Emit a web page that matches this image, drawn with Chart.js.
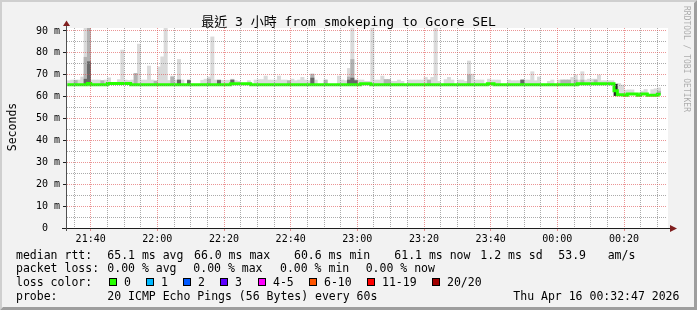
<!DOCTYPE html>
<html><head><meta charset="utf-8">
<script src="https://cdn.jsdelivr.net/npm/chart.js@4.4.1/dist/chart.umd.min.js"></script>
<style>html,body{margin:0;padding:0;background:#f2f2f2;overflow:hidden}canvas{display:block}</style>
</head><body>
<canvas id="c" width="697" height="310"></canvas>
<script>
// ---------------- data ----------------
// one step per minute; first step starts at 21:33 (minutes counted from 21:00)
const START_MIN = 33;
const median = [
65.5,65.5,65.5,65.5,65.5,65.5,66.0,65.5,65.5,65.5,
65.5,65.5,66.0,66.0,66.0,66.0,66.0,66.0,66.0,65.5,
65.5,65.5,65.5,65.5,65.5,65.5,65.5,65.5,65.5,65.5,
65.5,65.5,65.5,65.5,65.5,65.5,65.5,65.5,65.5,65.5,
65.5,65.5,65.5,65.5,65.5,65.5,65.5,65.5,65.5,65.9,
65.9,65.9,65.9,65.9,65.9,65.5,65.5,65.5,65.5,65.5,
65.5,65.5,65.5,65.5,65.5,65.5,65.5,65.5,65.5,65.5,
65.5,65.5,65.5,65.5,65.5,65.5,65.5,65.5,65.5,65.5,
65.5,65.5,65.5,65.5,65.5,65.5,65.5,65.5,65.9,65.9,
65.9,65.5,65.5,65.5,65.5,65.5,65.5,65.5,65.5,65.5,
65.5,65.5,65.5,65.5,65.5,65.5,65.5,65.5,65.5,65.5,
65.5,65.5,65.5,65.5,65.5,65.5,65.5,65.5,65.5,65.5,
65.5,65.5,65.5,65.5,65.5,65.5,65.9,65.9,65.5,65.5,
65.5,65.5,65.5,65.5,65.5,65.5,65.5,65.5,65.5,65.5,
65.5,65.5,65.5,65.5,65.5,65.5,65.5,65.5,65.5,65.5,
65.5,65.5,65.5,65.9,65.9,65.9,65.9,65.9,65.9,65.9,
65.9,65.9,65.9,65.9,62.7,60.9,60.9,60.6,61.2,61.2,
61.2,60.6,61.2,61.2,60.7,60.7,60.7,61.1
];
// highest ping of each step (light smoke), null = no smoke above median
const smokeMax = [
67.3,67.6,67.6,67.6,69.0,91.5,91.5,67.6,67.6,67.6,
67.4,67.6,68.6,null,null,67.8,81.3,67.6,67.4,67.6,
70.6,84.0,67.6,67.6,74.0,67.6,67.4,73.6,78.2,91.5,
67.4,69.4,67.6,77.0,67.6,null,67.6,null,null,null,
67.5,68.0,69.0,87.3,67.6,67.6,67.5,67.5,67.5,68.0,
67.3,67.0,null,null,67.3,null,67.6,67.8,67.8,69.4,
67.6,67.6,67.6,69.4,67.6,67.6,67.3,68.0,67.3,67.6,
68.8,67.6,67.3,70.3,67.6,null,null,67.6,null,null,
null,69.4,67.6,67.3,72.9,91.5,67.6,67.6,67.6,67.0,
67.0,91.5,67.6,67.6,69.4,67.8,67.8,67.0,67.0,67.6,
67.0,null,67.6,67.6,67.6,67.6,67.6,68.8,67.6,68.8,
91.5,67.0,null,67.8,68.8,67.6,null,67.6,67.6,67.0,
76.3,70.3,67.6,67.6,67.6,null,68.0,67.6,67.6,67.6,
null,null,67.6,67.3,67.3,67.3,67.6,67.6,67.6,71.4,
67.3,69.0,null,null,67.0,67.6,null,67.6,67.6,67.6,
67.6,68.8,69.9,67.6,71.4,67.6,68.0,68.0,68.0,69.9,
67.3,67.3,67.3,67.3,65.7,66.0,65.3,63.0,63.1,63.1,
null,null,62.5,63.3,null,63.2,63.6,64.0
];
// [step, value] : upper edge of the medium grey smoke
const smokeMid = [[2,67.4],[5,78.0],[6,91.5],[10,67.3],[20,70.6],[26,67.0],[31,69.0],[33,67.6],[36,67.6],
  [42,68.0],[45,67.6],[49,67.6],[66,67.3],[73,70.3],[77,67.6],[84,69.0],[85,77.0],[86,67.6],[95,67.8],
  [96,67.8],[108,67.6],[120,70.0],[136,67.6],[148,67.6],[149,67.6],[150,67.6],[152,67.6],[154,67.6],
  [158,67.6],[177,62.5]];
// [step, value] : upper edge of the dark grey smoke
const smokeDark = [[5,68.0],[6,76.0],[33,67.6],[36,67.4],[45,67.4],[49,67.6],[73,68.5],[84,67.6],
  [85,68.5],[86,67.3],[136,67.6],[164,65.7]];
// [step, value] : lowest ping where it lies below the median
const smokeFloor = [[164,60.5]];

const xMinorTicks = [35,40,45,50,55,60,65,70,75,80,85,90,95,100,105,110,115,120,125,130,135,140,145,150,155,160,165,170,175,180,185,190,195,200,205,210];
const xMajorTicks = [40,60,80,100,120,140,160,180,200];
const xTickLabels = ['21:40','22:00','22:20','22:40','23:00','23:20','23:40','00:00','00:20'];
const yTickValues = [0,5,10,15,20,25,30,35,40,45,50,55,60,65,70,75,80,85,90];
const yTickLabels = ['0  ','','10 m','','20 m','','30 m','','40 m','','50 m','','60 m','','70 m','','80 m','','90 m'];

const lossLegend = [['0','#26ff00'],['1','#00b8ff'],['2','#0059ff'],['3','#5e00ff'],['4-5','#ff00ff'],['6-10','#ff5500'],['11-19','#ff0000'],['20/20','#a10000']];

// ---------------- styles / layout ----------------
const MONO = '"DejaVu Sans Mono", "Noto Sans CJK TC", monospace';
const GRID = 'rgba(143,143,143,0.75)';
const MGRID = 'rgba(222,79,79,0.6)';
const legendBoxX = [109,146,183,220,258,309,367,432];
const legendRows = [
  [258.5, [[16,'median rtt:'],[107.3,'65.1 ms avg'],[194,'66.0 ms max'],[294,'60.6 ms min'],[394.3,'61.1 ms now'],[480.3,'1.2 ms sd'],[558.3,'53.9'],[607.7,'am/s']]],
  [272,   [[16,'packet loss:'],[107.3,'0.00 % avg'],[193.3,'0.00 % max'],[280,'0.00 % min'],[365.7,'0.00 % now']]],
  [286,   [[16,'loss color:']]],
  [299.5, [[16,'probe:'],[107.3,'20 ICMP Echo Pings (56 Bytes) every 60s'],[513.3,'Thu Apr 16 00:32:47 2026']]]
];

// ---------------- datasets ----------------
const floorMap = new Map(smokeFloor);
const lowAt = i => floorMap.has(i) ? floorMap.get(i) : median[i];
const lightData = [];
smokeMax.forEach((v, i) => { if (v != null) lightData.push({x: START_MIN + i + 0.5, y: [lowAt(i), v]}); });
const midData = smokeMid.map(([i, v]) => ({x: START_MIN + i + 0.5, y: [lowAt(i), v]}));
const darkData = smokeDark.map(([i, v]) => ({x: START_MIN + i + 0.5, y: [lowAt(i), v], f: floorMap.has(i)}));
const lineData = median.map((v, i) => ({x: START_MIN + i, y: v}));
lineData.push({x: START_MIN + median.length, y: median[median.length - 1]});

const barCommon = {type: 'bar', grouped: false, barPercentage: 1, categoryPercentage: 1, borderWidth: 0};

const rrdPlugin = {
  id: 'rrd',
  beforeDraw(chart) {
    const {ctx, chartArea: a} = chart;
    ctx.save();
    ctx.fillStyle = '#f2f2f2';
    ctx.fillRect(0, 0, chart.width, chart.height);
    ctx.fillStyle = '#ffffff';
    ctx.fillRect(a.left, a.top, a.right - a.left + 1, a.bottom - a.top);
    ctx.restore();
  },
  afterDraw(chart) {
    const {ctx, chartArea: a} = chart;
    const W = chart.width, H = chart.height;
    ctx.save();
    // axes
    ctx.lineWidth = 1;
    ctx.strokeStyle = '#1f1f1f';
    ctx.beginPath(); ctx.moveTo(a.left - 5, a.bottom + 0.5); ctx.lineTo(a.right + 3, a.bottom + 0.5); ctx.stroke();
    ctx.strokeStyle = '#505050';
    ctx.beginPath(); ctx.moveTo(a.left - 0.5, a.bottom + 3); ctx.lineTo(a.left - 0.5, a.top - 2); ctx.stroke();
    ctx.fillStyle = '#801f1f';
    ctx.beginPath(); ctx.moveTo(a.right + 3, a.bottom - 3); ctx.lineTo(a.right + 10, a.bottom + 0.5); ctx.lineTo(a.right + 3, a.bottom + 4); ctx.closePath(); ctx.fill();
    ctx.beginPath(); ctx.moveTo(a.left - 4, a.top - 2); ctx.lineTo(a.left - 0.5, a.top - 7.5); ctx.lineTo(a.left + 3, a.top - 2); ctx.closePath(); ctx.fill();

    // title
    ctx.fillStyle = '#000';
    ctx.textBaseline = 'alphabetic';
    ctx.font = '13px ' + MONO;
    ctx.textAlign = 'center';
    ctx.fillText('最近 3 小時 from smokeping to Gcore SEL', W / 2, 26);

    // unit label
    ctx.save();
    ctx.font = '11.5px ' + MONO;
    ctx.translate(15.5, 127);
    ctx.rotate(-Math.PI / 2);
    ctx.fillText('Seconds', 0, 0);
    ctx.restore();

    // watermark
    ctx.save();
    ctx.fillStyle = 'rgba(0,0,0,0.3)';
    ctx.font = '8px ' + MONO;
    ctx.translate(684, 59);
    ctx.rotate(Math.PI / 2);
    ctx.fillText('RRDTOOL / TOBI OETIKER', 0, 0);
    ctx.restore();

    // legend
    ctx.textAlign = 'left';
    ctx.font = '11.5px ' + MONO;
    ctx.fillStyle = '#000';
    legendRows.forEach(([y, items]) => items.forEach(([x, t]) => ctx.fillText(t, x, y)));
    lossLegend.forEach(([label, col], k) => {
      const bx = legendBoxX[k];
      ctx.fillStyle = col;
      ctx.fillRect(bx, 278, 8, 8);
      ctx.strokeStyle = '#000';
      ctx.strokeRect(bx + 0.5, 278.5, 7, 7);
      ctx.fillStyle = '#000';
      ctx.fillText(label, bx + 15, 286);
    });

    // 3d frame
    ctx.fillStyle = '#cfcfcf';
    ctx.beginPath(); ctx.moveTo(0, 0); ctx.lineTo(W, 0); ctx.lineTo(W - 2, 2); ctx.lineTo(2, 2); ctx.lineTo(2, H - 2); ctx.lineTo(0, H); ctx.closePath(); ctx.fill();
    ctx.fillStyle = '#9e9e9e';
    ctx.beginPath(); ctx.moveTo(W, 0); ctx.lineTo(W, H); ctx.lineTo(0, H); ctx.lineTo(3, H - 3); ctx.lineTo(W - 3, H - 3); ctx.lineTo(W - 3, 3); ctx.closePath(); ctx.fill();
    ctx.restore();
  }
};

new Chart(document.getElementById('c'), {
  type: 'line',
  data: {
    datasets: [
      {type: 'line', data: lineData, order: 0, borderColor: '#26ff00', borderWidth: 3, pointRadius: 0, fill: false,
       stepped: true, tension: 0, borderCapStyle: 'butt', borderJoinStyle: 'miter'},
      Object.assign({data: darkData, order: 1, backgroundColor: c => (c.raw && c.raw.f) ? '#262626' : '#686868'}, barCommon),
      Object.assign({data: midData, order: 2, backgroundColor: '#b2b2b2'}, barCommon),
      Object.assign({data: lightData, order: 3, backgroundColor: '#dadada'}, barCommon)
    ]
  },
  options: {
    responsive: false,
    animation: false,
    devicePixelRatio: 1,
    events: [],
    layout: {padding: {top: 28, right: 30, left: 0, bottom: 0}},
    plugins: {legend: {display: false}, tooltip: {enabled: false}, title: {display: false}},
    scales: {
      x: {
        type: 'linear', min: 32.9, max: 212.9, offset: false,
        afterFit: s => { s.height = 82; },
        afterBuildTicks: s => { s.ticks = xMinorTicks.map(v => ({value: v})); },
        grid: {z: 1, offset: false, lineWidth: 1, tickLength: 3,
          color: c => (c.tick && xMajorTicks.includes(c.tick.value)) ? MGRID : GRID,
          tickColor: c => (c.tick && xMajorTicks.includes(c.tick.value)) ? MGRID : 'rgba(0,0,0,0)'},
        border: {display: false, dash: [1, 1]},
        ticks: {autoSkip: false, maxRotation: 0, padding: 2, color: '#000', font: {family: MONO, size: 10},
          callback: v => { const k = xMajorTicks.indexOf(v); return k >= 0 ? xTickLabels[k] : ''; }}
      },
      y: {
        type: 'linear', min: 0, max: 91.37,
        afterFit: s => { s.width = 67; },
        afterBuildTicks: s => { s.ticks = yTickValues.map(v => ({value: v})); },
        grid: {z: 1, lineWidth: 1, tickLength: 4,
          color: c => (c.tick && c.tick.value % 10 === 0) ? MGRID : GRID,
          tickColor: c => (c.tick && c.tick.value % 10 === 0) ? '#1f1f1f' : 'rgba(0,0,0,0)'},
        border: {display: false, dash: [1, 1]},
        ticks: {autoSkip: false, padding: 3, color: '#000', font: {family: MONO, size: 10},
          callback: (v, i) => yTickLabels[i]}
      }
    }
  },
  plugins: [rrdPlugin]
});
</script>
</body></html>
